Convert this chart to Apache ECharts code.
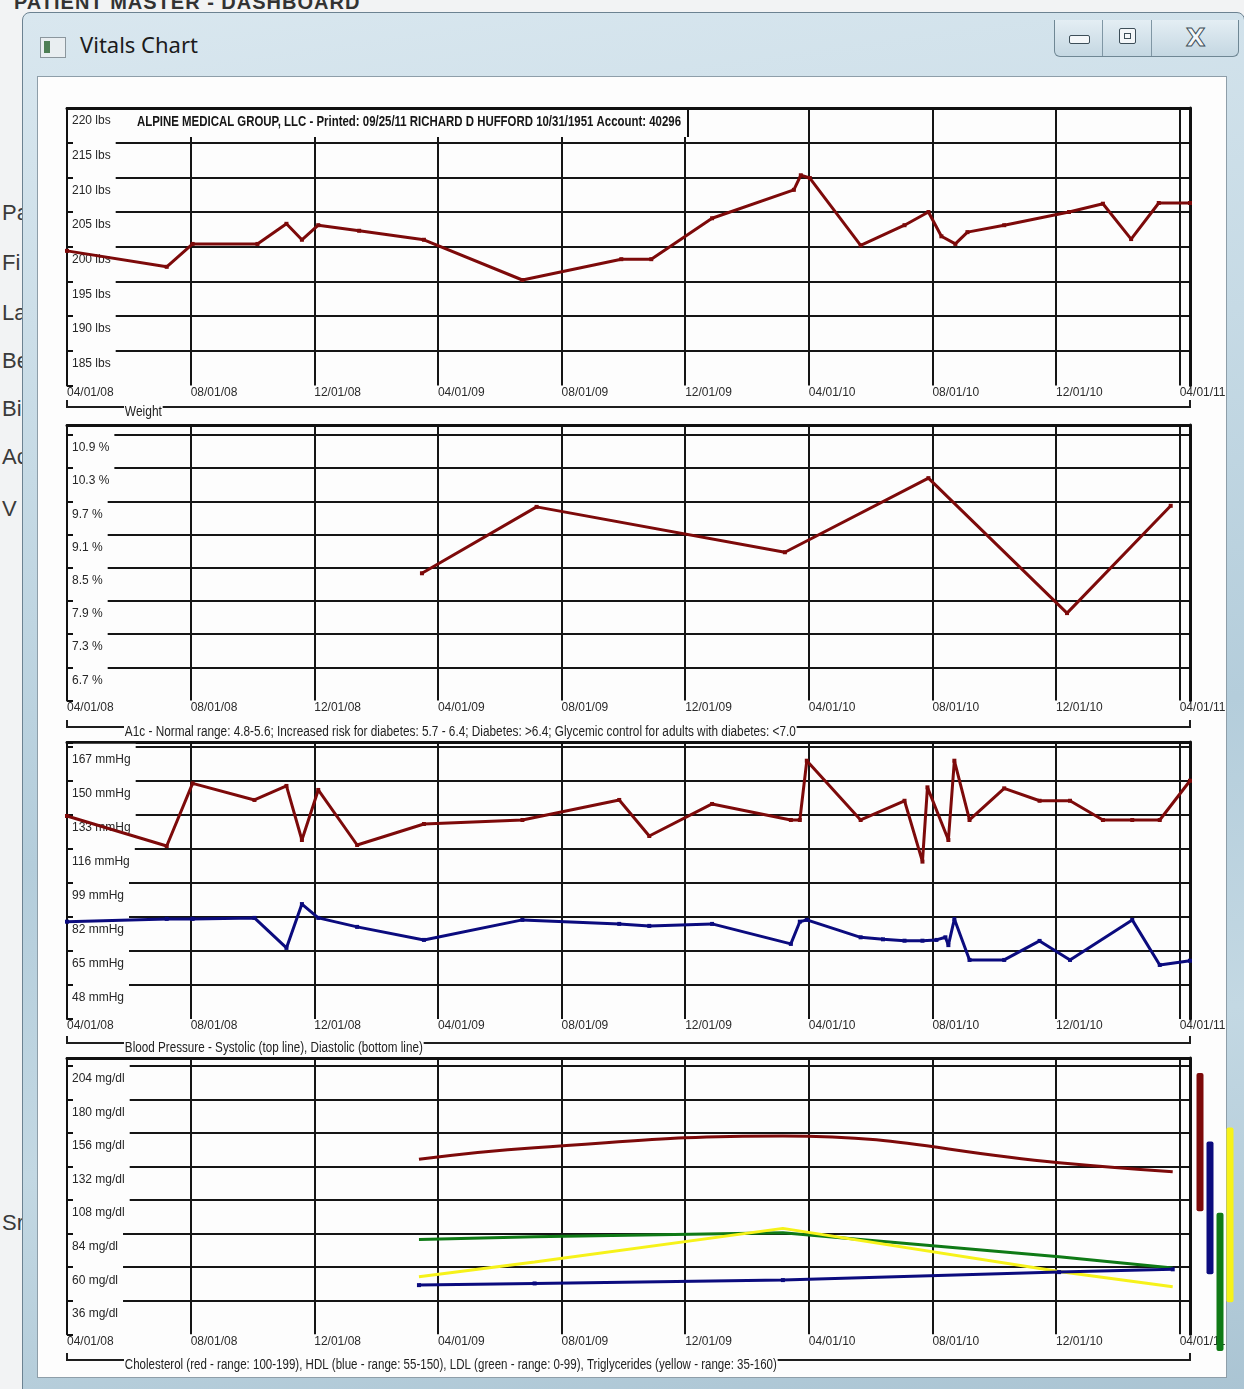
<!DOCTYPE html>
<html><head><meta charset="utf-8">
<script src="https://cdn.jsdelivr.net/npm/echarts@6/dist/echarts.min.js"></script>
<style>
html,body{margin:0;padding:0;width:1244px;height:1389px;overflow:hidden;background:#f2f3f4;}
.bgtxt{position:absolute;left:2px;font:22px 'Liberation Sans',Arial,sans-serif;color:#3a3a3a;}
#topapp{position:absolute;left:14px;top:-9px;font:bold 20px 'Liberation Sans',Arial,sans-serif;color:#333;letter-spacing:1px;}
#win{position:absolute;left:22px;top:12px;width:1221px;height:1380px;border:1px solid #6c8291;border-radius:8px 8px 0 0;
 background:linear-gradient(172deg,#d9e7ef 0%,#c6dae5 30%,#b4cddb 55%,#c3d8e3 75%,#aac4d3 100%);}
#client{position:absolute;left:37px;top:76px;width:1188px;height:1300px;background:#fdfdfd;border:1px solid #8e9ea9;}
#title{position:absolute;left:80px;top:29px;font:22px 'Noto Sans',sans-serif;color:#1b1b1b;}
#icon{position:absolute;left:40px;top:37px;width:24px;height:19px;background:#e9eef1;border:1px solid #8b969d;}
#icon i{position:absolute;left:3px;top:3px;width:6px;height:12px;background:#4e7f55;}
#btns{position:absolute;left:1054px;top:20px;width:183px;height:36px;border:1px solid #6f8794;border-top:none;border-radius:0 0 6px 6px;
 background:linear-gradient(180deg,#e4eef4,#c4d7e2);}
.sep{position:absolute;top:0;width:1px;height:36px;background:#7f96a4;}
#chart{position:absolute;left:0;top:0;width:1244px;height:1389px;}
</style></head>
<body>
<div id="topapp">PATIENT MASTER - DASHBOARD</div>
<div class="bgtxt" style="top:200px">Pa</div>
<div class="bgtxt" style="top:250px">Fi</div>
<div class="bgtxt" style="top:300px">La</div>
<div class="bgtxt" style="top:348px">Be</div>
<div class="bgtxt" style="top:396px">Bi</div>
<div class="bgtxt" style="top:444px">Ac</div>
<div class="bgtxt" style="top:496px">V</div>
<div class="bgtxt" style="top:1210px">Sr</div>
<div id="win"></div>
<div id="icon"><i></i></div>
<div id="title">Vitals Chart</div>
<div id="btns"><div class="sep" style="left:47px"></div><div class="sep" style="left:96px"></div>
 <div style="position:absolute;left:14px;top:15px;width:19px;height:7px;border:1px solid #3d4e58;border-radius:2px;background:#f4f7f9"></div>
 <div style="position:absolute;left:64px;top:8px;width:15px;height:14px;border:1px solid #3d4e58;border-radius:2px;background:#f4f7f9"><div style="position:absolute;left:4px;top:4px;width:5px;height:4px;border:1px solid #3d4e58"></div></div>
 <div style="position:absolute;left:131px;top:3px;font:bold 25px 'DejaVu Sans',sans-serif;color:#f4f7f9;-webkit-text-stroke:1px #3d4e58">X</div>
</div>
<div id="client"></div>
<div id="chart"></div>
<script>
// ---------------- data ----------------
const xTickLabels = ['04/01/08','08/01/08','12/01/08','04/01/09','08/01/09','12/01/09','04/01/10','08/01/10','12/01/10','04/01/11'];
const xAxisStart = '2008-04-01';
const xAxisEnd = '2011-04-11';

const weightTicks = ['185 lbs','190 lbs','195 lbs','200 lbs','205 lbs','210 lbs','215 lbs','220 lbs'];
const a1cTicks = ['6.7 %','7.3 %','7.9 %','8.5 %','9.1 %','9.7 %','10.3 %','10.9 %'];
const bpTicks = ['48 mmHg','65 mmHg','82 mmHg','99 mmHg','116 mmHg','133 mmHg','150 mmHg','167 mmHg'];
const lipidTicks = ['36 mg/dl','60 mg/dl','84 mg/dl','108 mg/dl','132 mg/dl','156 mg/dl','180 mg/dl','204 mg/dl'];

const weightDates = ['2008-04-01','2008-07-08','2008-08-03','2008-10-06','2008-11-04','2008-11-19','2008-12-05','2009-01-15','2009-03-18','2009-06-23','2009-09-29','2009-10-29','2009-12-28','2010-03-17','2010-03-24','2010-04-02','2010-05-22','2010-07-04','2010-07-28','2010-08-10','2010-08-24','2010-09-05','2010-10-11','2010-12-14','2011-01-17','2011-02-13','2011-03-11','2011-04-11'];
const weightValues = [199.4,197.1,200.4,200.4,203.3,201.0,203.1,202.3,201.0,195.2,198.2,198.2,204.1,208.2,210.3,209.9,200.2,203.1,205.0,201.5,200.4,202.1,203.1,205.0,206.2,201.1,206.3,206.3];

const a1cDates = ['2009-03-16','2009-07-07','2010-03-08','2010-07-28','2010-12-12','2011-03-23'];
const a1cValues = [8.40,9.60,8.78,10.12,7.68,9.62];

const systolicDates = ['2008-04-01','2008-07-08','2008-08-03','2008-10-03','2008-11-04','2008-11-19','2008-12-05','2009-01-13','2009-03-18','2009-06-23','2009-09-27','2009-10-27','2009-12-28','2010-03-14','2010-03-23','2010-03-30','2010-05-22','2010-07-04','2010-07-22','2010-07-27','2010-08-17','2010-08-23','2010-09-07','2010-10-11','2010-11-15','2010-12-15','2011-01-17','2011-02-14','2011-03-12','2011-04-11'];
const systolicValues = [132.4,117.4,148.7,140.4,147.4,120.4,145.4,117.9,128.4,130.4,140.4,122.4,138.4,130.4,130.4,160.0,130.4,140.0,109.6,146.7,120.4,160.0,130.4,146.2,140.0,140.0,130.4,130.4,130.4,150.0];

const diastolicDates = ['2008-04-01','2008-07-08','2008-08-03','2008-10-03','2008-11-04','2008-11-19','2008-12-05','2009-01-13','2009-03-18','2009-06-23','2009-09-27','2009-10-27','2009-12-28','2010-03-14','2010-03-23','2010-03-30','2010-05-22','2010-06-13','2010-07-04','2010-07-22','2010-08-05','2010-08-14','2010-08-17','2010-08-23','2010-09-07','2010-10-11','2010-11-15','2010-12-15','2011-02-14','2011-03-12','2011-04-11'];
const diastolicValues = [79.6,81.0,81.0,81.5,66.5,88.4,81.5,77.0,70.5,80.5,78.5,77.5,78.5,68.5,79.6,80.5,71.8,70.8,70.1,70.1,70.5,71.8,67.9,80.9,60.5,60.5,70.0,60.5,80.5,58.0,60.1];

const lipidDates = ['2009-03-13','2009-07-05','2010-03-06','2010-12-04','2011-03-25'];
const cholesterolValues = [137.2,145.5,153.9,134.8,128.3];
const hdlValues = [47.2,48.4,50.8,56.5,58.5];
const ldlValues = [79.9,81.8,84.7,67.5,59.5];
const triglycerideValues = [53.2,63.7,87.8,57.0,46.0];

const lipidRangeNames = ['Cholesterol','HDL','LDL','Triglycerides'];
const lipidRangeLow = [100,55,0,35];
const lipidRangeHigh = [199,150,99,160];

const headerText = 'ALPINE MEDICAL GROUP, LLC - Printed: 09/25/11 RICHARD D HUFFORD 10/31/1951 Account: 40296';
const captions = ['Weight',
 'A1c - Normal range: 4.8-5.6; Increased risk for diabetes: 5.7 - 6.4; Diabetes: >6.4; Glycemic control for adults with diabetes: <7.0',
 'Blood Pressure - Systolic (top line), Diastolic (bottom line)',
 'Cholesterol (red - range: 100-199), HDL (blue - range: 55-150), LDL (green - range: 0-99), Triglycerides (yellow - range: 35-160)'];

// ---------------- helpers ----------------
function monthOffset(d){
  const [y,m,day] = d.split('-').map(Number);
  const [y0,m0] = xAxisStart.split('-').map(Number);
  const dim = new Date(y, m, 0).getDate();
  return (y-y0)*12 + (m-m0) + (day-1)/dim;
}
const X_MAX = monthOffset(xAxisEnd);
function scaleOf(ticks){ const b=parseFloat(ticks[0]); return {base:b, step:parseFloat(ticks[1])-b}; }

const RED='#7d0a0a', BLUE='#0b0b7e', GREEN='#0f7a16', YELLOW='#f6f21a';
const FONT = "'Liberation Sans',Arial,sans-serif";
const LINEC = '#151515';
const BG = '#fdfdfd';

// measure text so condensed captions fit their original widths
const mctx = document.createElement('canvas').getContext('2d');
function fitScale(text, font, width){ mctx.font = font; return width / mctx.measureText(text).width; }

const panels = [
  {top:108,  height:277.4, maxU:7,     ticks:weightTicks, bracketY:407,  capW:37},
  {top:425,  height:275.5, maxU:7.301, ticks:a1cTicks,    bracketY:727,  capW:671},
  {top:742,  height:277.0, maxU:7.138, ticks:bpTicks,     bracketY:1043, capW:298},
  {top:1058, height:276.3, maxU:7.239, ticks:lipidTicks,  bracketY:1360, capW:652}
];
const GL = 67, GW = 1123;

const grids=[], xAxes=[], yAxes=[], series=[], graphics=[];

panels.forEach((p,i)=>{
  const sc = scaleOf(p.ticks);
  p.sc = sc;
  grids.push({left:GL, top:p.top, width:GW, height:p.height});
  xAxes.push({gridIndex:i, type:'value', min:0, max:X_MAX, interval:4, position:'bottom', z:0,
    axisLine:{show:false}, axisTick:{show:false},
    axisLabel:{show:true, align:'left', margin:0, fontFamily:FONT, fontSize:12, lineHeight:14, color:'#2b2b2b', showMinLabel:true, showMaxLabel:false,
      formatter:v=>{const k=v/4; return Math.abs(k-Math.round(k))<1e-6 ? (xTickLabels[Math.round(k)]||'') : '';}},
    splitLine:{show:true, lineStyle:{color:LINEC, width:2}}});
  xAxes.push({gridIndex:i, type:'value', min:0, max:X_MAX, position:'top', z:0,
    axisLine:{show:true, onZero:false, lineStyle:{color:'#111', width:3}}, axisTick:{show:false}, axisLabel:{show:false}, splitLine:{show:false}});
  const fmt = v=>{const r=Math.round(v); return (Math.abs(v-r)<1e-6 && r>=0 && r<p.ticks.length)? p.ticks[r] : '';};
  const yb = {gridIndex:i, type:'value', min:-1, max:p.maxU, interval:1, position:'left'};
  yAxes.push(Object.assign({}, yb, {z:0,
    axisLine:{show:true, onZero:false, lineStyle:{color:'#111', width:2}},
    axisTick:{show:true, inside:true, length:6, lineStyle:{color:'#111', width:2}},
    axisLabel:{show:false},
    splitLine:{show:true, showMinLine:false, showMaxLine:true, lineStyle:{color:LINEC, width:2}}}));
  yAxes.push(Object.assign({}, yb, {z:1,
    axisLine:{show:false}, axisTick:{show:false}, splitLine:{show:false},
    axisLabel:{show:true, inside:true, margin:6, formatter:fmt, color:'rgba(0,0,0,0)', backgroundColor:BG,
      verticalAlign:'middle', lineHeight:6, fontFamily:FONT, fontSize:12, padding:[0,4,0,0], showMinLabel:false, showMaxLabel:false}}));
  yAxes.push(Object.assign({}, yb, {z:1.5,
    axisLine:{show:false}, axisTick:{show:false}, splitLine:{show:false},
    axisLabel:{show:true, inside:true, margin:5, formatter:fmt, color:'#262626', verticalAlign:'top', lineHeight:14, padding:[6,0,0,0],
      fontFamily:FONT, fontSize:12, showMinLabel:false, showMaxLabel:(i===0)}}));
  yAxes.push(Object.assign({}, yb, {position:'right', z:0,
    axisLine:{show:true, onZero:false, lineStyle:{color:'#111', width:3}}, axisTick:{show:false}, axisLabel:{show:false}, splitLine:{show:false}}));

  graphics.push({type:'polyline', z:3, shape:{points:[[GL,p.bracketY-7],[GL,p.bracketY],[GL+GW,p.bracketY],[GL+GW,p.bracketY-7]]},
    style:{stroke:'#1e1e1e', lineWidth:2, fill:null}});
  const cf = '14px '+FONT;
  graphics.push({type:'text', z:4, x:124, y:p.bracketY+5, scaleX:fitScale(captions[i], cf, p.capW),
    style:{text:captions[i], font:cf, fill:'#222', verticalAlign:'middle', backgroundColor:BG, padding:[0,1,0,1]}});
});

function lineSeries(pIdx, dates, vals, color, smooth, sym){
  const sc = panels[pIdx].sc;
  return {type:'line', xAxisIndex:pIdx*2, yAxisIndex:pIdx*4, z:2,
    data:dates.map((d,k)=>[monthOffset(d),(vals[k]-sc.base)/sc.step]),
    smooth:smooth||false, symbol:sym===false?'none':'rect', symbolSize:4, showSymbol:sym!==false,
    lineStyle:{color:color, width:3}, itemStyle:{color:color}, animation:false};
}
series.push(lineSeries(0, weightDates, weightValues, RED));
series.push(lineSeries(1, a1cDates, a1cValues, RED));
series.push(lineSeries(2, systolicDates, systolicValues, RED));
series.push(lineSeries(2, diastolicDates, diastolicValues, BLUE));
series.push(lineSeries(3, lipidDates, cholesterolValues, RED, 0.45, false));
series.push(lineSeries(3, lipidDates, ldlValues, GREEN, false, false));
series.push(lineSeries(3, lipidDates, triglycerideValues, YELLOW, false, false));
series.push(lineSeries(3, lipidDates, hdlValues, BLUE, false));

// range bars beside the lipid panel
const lp = panels[3];
grids.push({left:1195, top:lp.top, width:40, height:lp.height});
xAxes.push({gridIndex:4, type:'category', data:lipidRangeNames, show:false});
yAxes.push({gridIndex:4, type:'value', min:-1, max:lp.maxU, show:false, splitLine:{show:false}});
const rangeColors = [RED, BLUE, GREEN, YELLOW];
series.push({type:'custom', xAxisIndex:8, yAxisIndex:16, z:2, clip:false, animation:false,
  encode:{x:0, y:[1,2]},
  data:lipidRangeNames.map((n,k)=>({value:[k,(lipidRangeLow[k]-lp.sc.base)/lp.sc.step,(lipidRangeHigh[k]-lp.sc.base)/lp.sc.step], itemStyle:{color:rangeColors[k]}})),
  renderItem:(params, api)=>{
    const lo = api.coord([api.value(0), api.value(1)]);
    const hi = api.coord([api.value(0), api.value(2)]);
    return {type:'rect', shape:{x:lo[0]-3.5, y:hi[1], width:7, height:lo[1]-hi[1], r:2}, style:{fill:api.visual('color')}};
  }});

// header box in the weight panel
graphics.push({type:'rect', z:0.5, shape:{x:GL+1, y:110, width:620, height:27}, style:{fill:BG}});
graphics.push({type:'line', z:0.6, shape:{x1:688, y1:108, x2:688, y2:137}, style:{stroke:'#111', lineWidth:2}});
const hf = 'bold 15px '+FONT;
graphics.push({type:'text', z:4, x:137, y:122, scaleX:fitScale(headerText, hf, 544),
  style:{text:headerText, font:hf, fill:'#161616', verticalAlign:'middle'}});

const chart = echarts.init(document.getElementById('chart'));
chart.setOption({backgroundColor:'transparent', animation:false,
  grid:grids, xAxis:xAxes, yAxis:yAxes, series:series, graphic:{elements:graphics}});
</script>
</body></html>
